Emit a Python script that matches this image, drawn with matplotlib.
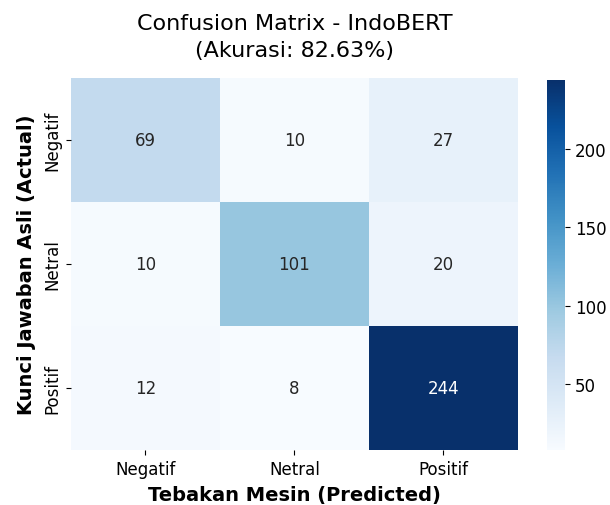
import numpy as np
import matplotlib
matplotlib.use("Agg")
import matplotlib.pyplot as plt
import seaborn as sns

# Confusion matrix values
labels = ["Negatif", "Netral", "Positif"]
cm = np.array([[69, 10, 27],
               [10, 101, 20],
               [12, 8, 244]])
accuracy = 82.63

fig = plt.figure(figsize=(6.1, 5.06), dpi=100)
ax = fig.add_axes([0.116, 0.109, 0.733, 0.735])
cax = fig.add_axes([0.897, 0.109, 0.03, 0.731])

sns.heatmap(cm, annot=True, fmt="d", cmap="Blues",
            xticklabels=labels, yticklabels=labels,
            annot_kws={"fontsize": 12},
            ax=ax, cbar_ax=cax)

ax.tick_params(labelsize=12)
cax.tick_params(labelsize=12)

ax.set_title(f"Confusion Matrix - IndoBERT\n(Akurasi: {accuracy:.2f}%)",
             fontsize=16, pad=16, linespacing=1.45)
ax.set_xlabel("Tebakan Mesin (Predicted)", fontsize=14, fontweight="bold",
              labelpad=5)
ax.set_ylabel("Kunci Jawaban Asli (Actual)", fontsize=14, fontweight="bold",
              labelpad=5)

plt.savefig("out.png", dpi=100)
